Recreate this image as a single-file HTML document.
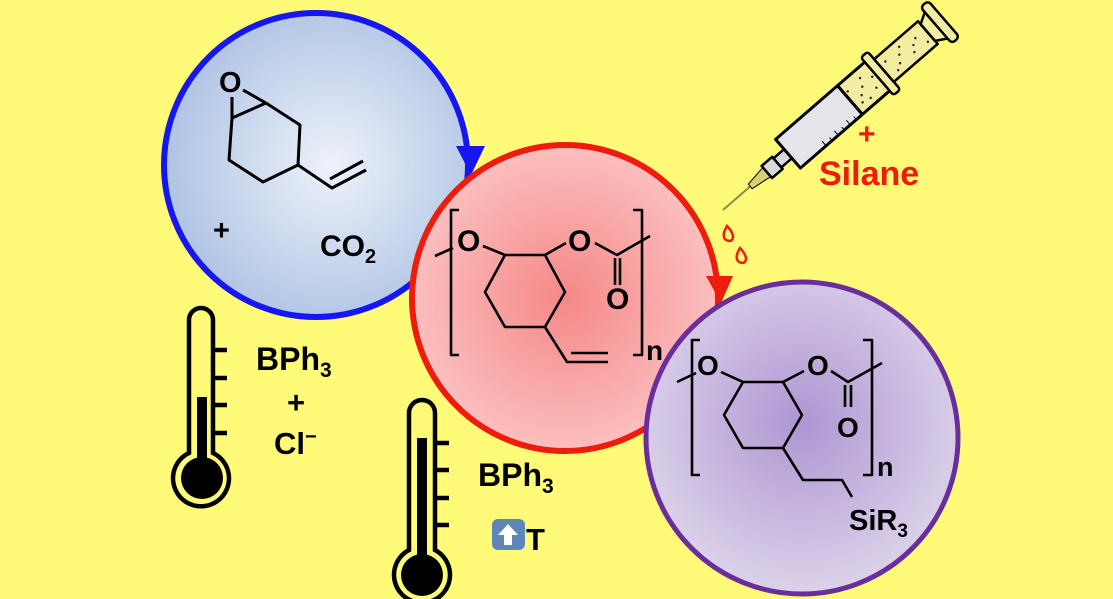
<!DOCTYPE html>
<html><head><meta charset="utf-8"><style>
html,body{margin:0;padding:0;background:#fffa78;}
svg{display:block;}
text{font-family:"Liberation Sans",sans-serif;font-weight:bold;}
</style></head><body>
<svg width="1113" height="599" viewBox="0 0 1113 599" xmlns="http://www.w3.org/2000/svg">
<defs>
<radialGradient id="gb" cx="0.55" cy="0.5" r="0.6"><stop offset="0" stop-color="#eef2fa"/><stop offset="1" stop-color="#a9bfe2"/></radialGradient>
<radialGradient id="gr" cx="0.5" cy="0.5" r="0.55"><stop offset="0" stop-color="#f58888"/><stop offset="1" stop-color="#fcc4c4"/></radialGradient>
<radialGradient id="gp" cx="0.5" cy="0.45" r="0.55"><stop offset="0" stop-color="#ae96d2"/><stop offset="1" stop-color="#dcd2ea"/></radialGradient>
</defs>
<rect width="1113" height="599" fill="#fffa78"/>

<!-- blue circle -->
<circle cx="316" cy="165" r="152" fill="url(#gb)" stroke="#1616f0" stroke-width="6"/>
<polygon points="456,146 485,146 471,175" fill="#1616f0"/>
<g stroke="#000" stroke-width="3" fill="none" stroke-linejoin="round">
<path d="M232,97 L232,118 M243,90 L266,103 L232,118 L229,160 L263,182 L298,165 L300,125 L266,103"/>
<path d="M298,165 L332,188 L366,170 M330,179 L363,161"/>
</g>
<text x="219" y="92" font-size="29" fill="#000">O</text>
<text x="213" y="240" font-size="29">+</text>
<text x="320" y="256" font-size="30">CO<tspan font-size="20" dy="7">2</tspan></text>

<!-- red circle -->
<circle cx="565" cy="298" r="153" fill="url(#gr)" stroke="#ee1c0c" stroke-width="6"/>
<polygon points="706,276 733,276 721,303" fill="#ee1c0c"/>
<g stroke="#000" stroke-width="2.6" fill="none" stroke-linejoin="round">
<path d="M459,210 L451,210 L451,355 L459,355 M633,210 L642,210 L642,355 L633,355"/>
<path d="M435,256 L453,248 M483,246 L505,255 L545,255 L565,292 L545,327 L505,327 L485,292 L505,255 M545,255 L566,243 M595,243 L617,255 L650,236 M615,258 L615,285 M620,258 L620,285"/>
<path d="M545,327 L567,362 L608,362 M571,353 L608,353"/>
</g>
<text x="457" y="251" font-size="30" fill="#000">O</text>
<text x="568" y="251" font-size="30">O</text>
<text x="606" y="309" font-size="30">O</text>
<text x="646" y="360" font-size="28">n</text>

<!-- purple circle -->
<circle cx="802" cy="438" r="156" fill="url(#gp)" stroke="#6a2e9c" stroke-width="5"/>
<g stroke="#000" stroke-width="2.6" fill="none" stroke-linejoin="round">
<path d="M700,340 L692,340 L692,475 L700,475 M863,340 L872,340 L872,475 L863,475"/>
<path d="M677,382 L696,373 M721,372 L743,382 L783,382 L802,415 L783,448 L743,448 L724,415 L743,382 M783,382 L804,371 M831,371 L848,382 L882,363 M845,385 L845,407 M851,385 L851,407"/>
<path d="M783,448 L803,480 L842,480 L852,497"/>
</g>
<text x="697" y="375" font-size="28">O</text>
<text x="807" y="375" font-size="28">O</text>
<text x="837" y="437" font-size="28">O</text>
<text x="877" y="476" font-size="27">n</text>
<text x="849" y="530" font-size="29">SiR<tspan font-size="19" dy="7">3</tspan></text>

<!-- syringe -->
<g transform="translate(723,210) rotate(-40.9)" stroke="#000" stroke-linejoin="round">
<line x1="0" y1="0" x2="58" y2="0" stroke="#8a8a50" stroke-width="2"/>
<path d="M36,-3 L58,-6 L58,6 L36,3 Z" fill="#d8d070" stroke-width="1"/>
<rect x="58" y="-8" width="14" height="16" fill="#d8d8d8" stroke-width="2.5"/>
<rect x="72" y="-6" width="14" height="12" fill="#d8d8d8" stroke-width="2.5"/>
<rect x="86" y="-19" width="82" height="38" fill="#e4e4ea" stroke-width="3"/>
<rect x="168" y="-19" width="40" height="38" fill="#f2eda0" stroke-width="3"/>
<rect x="204" y="-25" width="9" height="50" rx="3" fill="#f2eda0" stroke-width="2.5"/>
<rect x="213" y="-15" width="58" height="30" fill="#f2eda0" stroke-width="2.5"/>
<path d="M271,-11 L283,-18 L283,18 L271,11 Z" fill="#f2eda0" stroke-width="2.5"/>
<rect x="282" y="-24" width="10" height="48" rx="4" fill="#f2eda0" stroke-width="2.5"/>
<g stroke="none" fill="#222">
<circle cx="172" cy="-8" r="1.2"/><circle cx="180" cy="4" r="1.2"/><circle cx="190" cy="-10" r="1.2"/><circle cx="196" cy="8" r="1.2"/><circle cx="185" cy="12" r="1.2"/><circle cx="200" cy="-3" r="1.2"/><circle cx="176" cy="10" r="1.2"/><circle cx="186" cy="-2" r="1.2"/>
<circle cx="220" cy="-6" r="1.2"/><circle cx="230" cy="5" r="1.2"/><circle cx="240" cy="-8" r="1.2"/><circle cx="248" cy="6" r="1.2"/><circle cx="258" cy="-4" r="1.2"/><circle cx="265" cy="7" r="1.2"/><circle cx="235" cy="-2" r="1.2"/><circle cx="252" cy="0" r="1.2"/><circle cx="224" cy="9" r="1.2"/>
</g>
<path d="M120,19 L120,13 M128,19 L128,15 M136,19 L136,13 M144,19 L144,15 M152,19 L152,13 M160,19 L160,15" stroke-width="1"/>
</g>
<g fill="none" stroke="#ee1c0c" stroke-width="2.5">
<path d="M727,226 Q721,236 726,240 Q733,243 733,236 Q732,231 727,226 Z"/>
<path d="M740,248 Q734,258 739,262 Q746,265 746,258 Q745,253 740,248 Z"/>
</g>
<text x="858" y="144" font-size="30" fill="#ee1c0c">+</text>
<text x="819" y="185" font-size="34" fill="#ee1c0c">Silane</text>

<!-- thermometers -->
<g stroke="#000" stroke-width="4.5" fill="none">
<path d="M189,453 L189,320 A12,12 0 0 1 213,320 L213,453 A28,28 0 1 1 189,453 Z" fill="#fffa78"/>
<path d="M215,350 H227 M215,378 H227 M215,405 H227 M215,433 H227"/>
<path d="M409,550 L409,413 A13,13 0 0 1 435,413 L435,550 A28,28 0 1 1 409,550 Z" fill="#fffa78"/>
<path d="M437,443 H449 M437,470 H449 M437,498 H449 M437,525 H449"/>
</g>
<rect x="197" y="397" width="10" height="62" fill="#000"/>
<circle cx="202" cy="478" r="21" fill="#000"/>
<rect x="417" y="438" width="10" height="120" fill="#000"/>
<circle cx="422" cy="575" r="21" fill="#000"/>

<text x="256" y="370" font-size="32">BPh<tspan font-size="21" dy="7">3</tspan></text>
<text x="287" y="413" font-size="31">+</text>
<text x="274" y="454" font-size="31">Cl<tspan font-size="20" dy="-11">−</tspan></text>
<text x="478" y="486" font-size="32">BPh<tspan font-size="21" dy="7">3</tspan></text>
<rect x="492" y="519" width="33" height="31" rx="6" fill="#5f86b8"/>
<path d="M508,524 L518,535 L512,535 L512,545 L504,545 L504,535 L498,535 Z" fill="#fff"/>
<text x="526" y="550" font-size="31">T</text>
</svg>
</body></html>
